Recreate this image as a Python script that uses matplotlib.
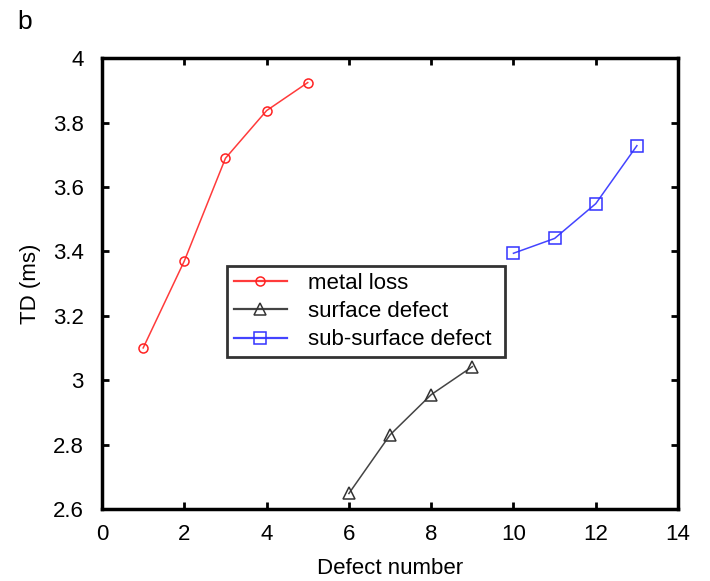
import matplotlib
matplotlib.use("Agg")
import matplotlib.pyplot as plt
from matplotlib.ticker import FuncFormatter

# values
metal_x = [1, 2, 3, 4, 5]
metal_td = [3.10, 3.37, 3.689, 3.837, 3.924]
surface_x = [6, 7, 8, 9]
surface_td = [2.648, 2.830, 2.955, 3.042]
sub_x = [10, 11, 12, 13]
sub_td = [3.394, 3.440, 3.548, 3.728]

x_ticks = [0, 2, 4, 6, 8, 10, 12, 14]
y_ticks = [2.6, 2.8, 3.0, 3.2, 3.4, 3.6, 3.8, 4.0]

plt.rcParams['font.family'] = ['Liberation Sans', 'DejaVu Sans']

fig = plt.figure(figsize=(7.10, 5.81), dpi=100)
ax = fig.add_axes([0.1437, 0.124, 0.8113, 0.776])

ax.plot(metal_x, metal_td, color='#ff3b3b', lw=1.1, marker='o', ms=6.5,
        mfc='none', mec='#ff2222', mew=1.1, label='metal loss')
ax.plot(surface_x, surface_td, color='#444444', lw=1.1, marker='^', ms=9,
        mfc='none', mec='#333333', mew=1.1, label='surface defect')
ax.plot(sub_x, sub_td, color='#4444ff', lw=1.1, marker='s', ms=8,
        mfc='none', mec='#3333ff', mew=1.1, label='sub-surface defect')

ax.set_xlim(0, 14)
ax.set_ylim(2.6, 4.0)
ax.set_xticks(x_ticks)
ax.set_yticks(y_ticks)
ax.yaxis.set_major_formatter(FuncFormatter(lambda v, p: '%g' % round(v, 2)))
ax.tick_params(direction='in', length=5, width=2, top=True, right=True,
               labelsize=16)
ax.tick_params(axis='x', pad=11)
ax.tick_params(axis='y', pad=13)
for s in ax.spines.values():
    s.set_linewidth(2.5)

ax.set_xlabel('Defect number', fontsize=16, labelpad=9)
ax.set_ylabel('TD (ms)', fontsize=16, labelpad=9)

leg = ax.legend(loc='lower left', bbox_to_anchor=(0.217, 0.337, 0.483, 0.204),
                mode='expand', fontsize=16, frameon=True, fancybox=False,
                borderpad=0.3, labelspacing=0.32, handlelength=2.4,
                handletextpad=0.95, borderaxespad=0)
leg.get_frame().set_edgecolor('black')
leg.get_frame().set_linewidth(2)
for line in leg.get_lines():
    line.set_linewidth(1.6)

fig.text(0.024, 0.962, 'b', fontsize=19, va='center', ha='left')

fig.savefig('out.png', dpi=100)
